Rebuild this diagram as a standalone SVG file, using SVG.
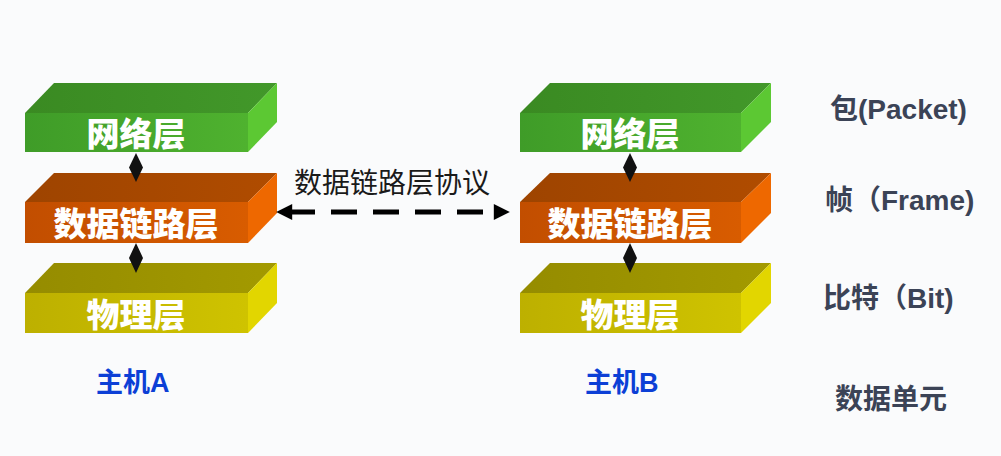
<svg xmlns="http://www.w3.org/2000/svg" width="1001" height="456" viewBox="0 0 1001 456">
<defs>
<linearGradient id="gF" x1="0" y1="0" x2="1" y2="0"><stop offset="0" stop-color="#3f9c28"/><stop offset="1" stop-color="#4fb22f"/></linearGradient>
<linearGradient id="gT" x1="0" y1="0" x2="1" y2="0"><stop offset="0" stop-color="#3a8a22"/><stop offset="1" stop-color="#42982a"/></linearGradient>
<linearGradient id="oF" x1="0" y1="0" x2="1" y2="0"><stop offset="0" stop-color="#c24e00"/><stop offset="1" stop-color="#d85c00"/></linearGradient>
<linearGradient id="oT" x1="0" y1="0" x2="1" y2="0"><stop offset="0" stop-color="#9e4400"/><stop offset="1" stop-color="#b04c00"/></linearGradient>
<linearGradient id="yF" x1="0" y1="0" x2="1" y2="0"><stop offset="0" stop-color="#bdb000"/><stop offset="1" stop-color="#cfc300"/></linearGradient>
<linearGradient id="yT" x1="0" y1="0" x2="1" y2="0"><stop offset="0" stop-color="#958c00"/><stop offset="1" stop-color="#a39a00"/></linearGradient>
<marker id="ah" viewBox="0 0 10 10" refX="2" refY="5" markerWidth="4" markerHeight="3.2" orient="auto-start-reverse" markerUnits="strokeWidth"><path d="M0,0 L10,5 L0,10 z" fill="#000"/></marker>
</defs>
<style>
.lbl{font-family:"Liberation Sans","Noto Sans CJK SC",sans-serif;font-weight:900;font-size:33px;fill:#fff;text-anchor:middle}
.unit{font-family:"Liberation Sans","Noto Sans CJK SC",sans-serif;font-weight:bold;font-size:28px;fill:#3b4356}
.host{font-family:"Liberation Sans","Noto Sans CJK SC",sans-serif;font-weight:bold;font-size:27px;fill:#0c3fd6}
.proto{font-family:"Noto Sans CJK SC",sans-serif;font-size:28px;fill:#1a1a1a;text-anchor:middle}
.dia{fill:#111}
</style>
<rect width="1001" height="456" fill="#fafbfc"/>

<g id="hostA-network">
<polygon points="25,113 54,83 277,83 248,113" fill="url(#gT)"/>
<polygon points="248,113 277,83 277,122 248,152" fill="#5cc833"/>
<rect x="25" y="113" width="223" height="39" fill="url(#gF)"/>
<text class="lbl" x="136" y="146">网络层</text>
</g>
<g id="hostA-datalink">
<polygon points="25,202 54,173 277,173 248,202" fill="url(#oT)"/>
<polygon points="248,202 277,173 277,213 248,243" fill="#ee6800"/>
<rect x="25" y="202" width="223" height="41" fill="url(#oF)"/>
<text class="lbl" x="136" y="236">数据链路层</text>
</g>
<g id="hostA-physical">
<polygon points="25,293 54,263 277,263 248,293" fill="url(#yT)"/>
<polygon points="248,293 277,263 277,303 248,333" fill="#e2d600"/>
<rect x="25" y="293" width="223" height="40" fill="url(#yF)"/>
<text class="lbl" x="136" y="327">物理层</text>
</g>

<g id="hostB-network">
<polygon points="520,113 550,83 771,83 741,113" fill="url(#gT)"/>
<polygon points="741,113 771,83 771,122 741,152" fill="#5cc833"/>
<rect x="520" y="113" width="221" height="39" fill="url(#gF)"/>
<text class="lbl" x="630" y="146">网络层</text>
</g>
<g id="hostB-datalink">
<polygon points="520,202 550,173 771,173 741,202" fill="url(#oT)"/>
<polygon points="741,202 771,173 771,213 741,243" fill="#ee6800"/>
<rect x="520" y="202" width="221" height="41" fill="url(#oF)"/>
<text class="lbl" x="630" y="236">数据链路层</text>
</g>
<g id="hostB-physical">
<polygon points="520,293 550,263 771,263 741,293" fill="url(#yT)"/>
<polygon points="741,293 771,263 771,303 741,333" fill="#e2d600"/>
<rect x="520" y="293" width="221" height="40" fill="url(#yF)"/>
<text class="lbl" x="630" y="327">物理层</text>
</g>

<g id="connectors">
<polygon class="dia" points="136,153 143,167.5 136,182 129,167.5"/>
<polygon class="dia" points="136,243 143,258 136,273 129,258"/>
<polygon class="dia" points="630,153 637,167.5 630,182 623,167.5"/>
<polygon class="dia" points="630,243 637,258 630,273 623,258"/>
<line x1="289" y1="212" x2="497" y2="212" stroke="#000" stroke-width="5" stroke-dasharray="26,16" marker-start="url(#ah)" marker-end="url(#ah)"/>
</g>

<g id="protocol-label"><text class="proto" x="392" y="193">数据链路层协议</text></g>
<g id="hostA-label"><text class="host" x="96" y="392">主机A</text></g>
<g id="hostB-label"><text class="host" x="585" y="392">主机B</text></g>
<g id="units">
<text class="unit" x="830" y="119">包(Packet)</text>
<text class="unit" x="825" y="210">帧（Frame)</text>
<text class="unit" x="823" y="308">比特（Bit)</text>
<text class="unit" x="835" y="409">数据单元</text>
</g>
</svg>
